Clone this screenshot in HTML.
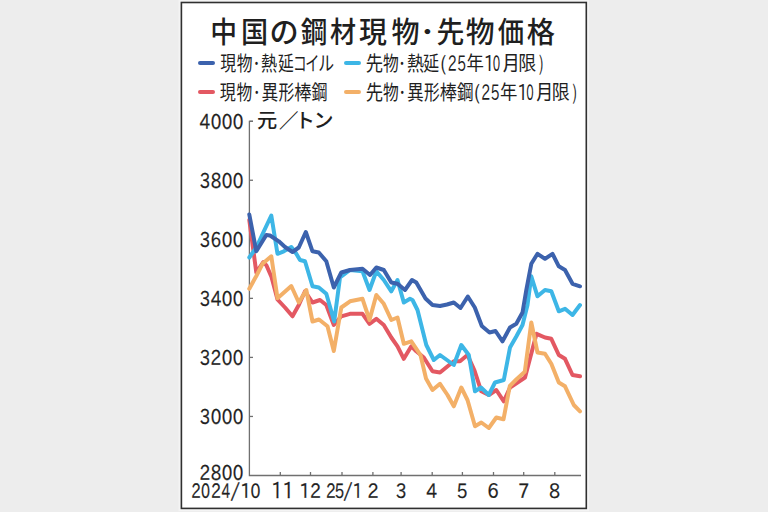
<!DOCTYPE html>
<html><head><meta charset="utf-8"><style>
html,body{margin:0;padding:0;background:#ededed;overflow:hidden;}
svg{display:block;}
text{fill:#1f1f1f;}
.b text{stroke:#1f1f1f;stroke-width:0.25px;}
</style></head><body>
<svg width="768" height="512" viewBox="0 0 768 512">
<rect x="0" y="0" width="768" height="512" fill="#ededed"/>
<rect x="179.6" y="0.7" width="408.5" height="509.5" fill="none" stroke="#f4f4f4" stroke-width="2"/>
<rect x="181.4" y="2.5" width="404.9" height="505.9" fill="#ffffff" stroke="#303030" stroke-width="1.6"/>
<g stroke-linecap="round" stroke-width="4">
<line x1="200" y1="62.9" x2="213" y2="62.9" stroke="#3c62ad"/>
<line x1="200" y1="91.9" x2="213" y2="91.9" stroke="#e35862"/>
<line x1="346" y1="62.9" x2="359" y2="62.9" stroke="#3db6e6"/>
<line x1="346" y1="91.9" x2="359" y2="91.9" stroke="#f3b068"/>
</g>
<text transform="translate(210.29,42.68) scale(0.925,1)" style="font-family:'Liberation Sans','Noto Sans CJK JP',sans-serif;font-size:29.00px;font-weight:500">中</text>
<text transform="translate(240.93,42.68) scale(0.936,1)" style="font-family:'Liberation Sans','Noto Sans CJK JP',sans-serif;font-size:29.00px;font-weight:500">国</text>
<text transform="translate(269.57,42.68) scale(1.006,1)" style="font-family:'Liberation Sans','Noto Sans CJK JP',sans-serif;font-size:29.00px;font-weight:500">の</text>
<text transform="translate(300.67,42.68) scale(0.918,1)" style="font-family:'Liberation Sans','Noto Sans CJK JP',sans-serif;font-size:29.00px;font-weight:500">鋼</text>
<text transform="translate(329.98,42.68) scale(0.899,1)" style="font-family:'Liberation Sans','Noto Sans CJK JP',sans-serif;font-size:29.00px;font-weight:500">材</text>
<text transform="translate(358.96,42.68) scale(0.962,1)" style="font-family:'Liberation Sans','Noto Sans CJK JP',sans-serif;font-size:29.00px;font-weight:500">現</text>
<text transform="translate(391.56,42.68) scale(0.968,1)" style="font-family:'Liberation Sans','Noto Sans CJK JP',sans-serif;font-size:29.00px;font-weight:500">物</text>
<text transform="translate(419.43,42.68) scale(1.092,1)" style="font-family:'Liberation Sans','Noto Sans CJK JP',sans-serif;font-size:29.00px;font-weight:500">･</text>
<text transform="translate(436.51,42.68) scale(0.962,1)" style="font-family:'Liberation Sans','Noto Sans CJK JP',sans-serif;font-size:29.00px;font-weight:500">先</text>
<text transform="translate(465.84,42.68) scale(0.994,1)" style="font-family:'Liberation Sans','Noto Sans CJK JP',sans-serif;font-size:29.00px;font-weight:500">物</text>
<text transform="translate(497.77,42.68) scale(0.908,1)" style="font-family:'Liberation Sans','Noto Sans CJK JP',sans-serif;font-size:29.00px;font-weight:500">価</text>
<text transform="translate(526.75,42.68) scale(0.973,1)" style="font-family:'Liberation Sans','Noto Sans CJK JP',sans-serif;font-size:29.00px;font-weight:500">格</text>
<text transform="translate(220.22,70.60) scale(0.793,1)" style="font-family:'Liberation Sans','Noto Sans CJK JP',sans-serif;font-size:20.00px;font-weight:400">現</text>
<text transform="translate(236.83,70.60) scale(0.788,1)" style="font-family:'Liberation Sans','Noto Sans CJK JP',sans-serif;font-size:20.00px;font-weight:400">物</text>
<text transform="translate(252.65,70.60) scale(0.750,1)" style="font-family:'Liberation Sans','Noto Sans CJK JP',sans-serif;font-size:20.00px;font-weight:400">･</text>
<text transform="translate(260.94,70.60) scale(0.807,1)" style="font-family:'Liberation Sans','Noto Sans CJK JP',sans-serif;font-size:20.00px;font-weight:400">熱</text>
<text transform="translate(278.07,70.60) scale(0.788,1)" style="font-family:'Liberation Sans','Noto Sans CJK JP',sans-serif;font-size:20.00px;font-weight:400">延</text>
<text transform="translate(292.92,70.60) scale(0.681,1)" style="font-family:'Liberation Sans','Noto Sans CJK JP',sans-serif;font-size:20.00px;font-weight:400">コ</text>
<text transform="translate(305.23,70.60) scale(0.708,1)" style="font-family:'Liberation Sans','Noto Sans CJK JP',sans-serif;font-size:20.00px;font-weight:400">イ</text>
<text transform="translate(318.29,70.60) scale(0.795,1)" style="font-family:'Liberation Sans','Noto Sans CJK JP',sans-serif;font-size:20.00px;font-weight:400">ル</text>
<text transform="translate(219.82,99.60) scale(0.803,1)" style="font-family:'Liberation Sans','Noto Sans CJK JP',sans-serif;font-size:20.00px;font-weight:400">現</text>
<text transform="translate(236.53,99.60) scale(0.788,1)" style="font-family:'Liberation Sans','Noto Sans CJK JP',sans-serif;font-size:20.00px;font-weight:400">物</text>
<text transform="translate(252.95,99.60) scale(0.750,1)" style="font-family:'Liberation Sans','Noto Sans CJK JP',sans-serif;font-size:20.00px;font-weight:400">･</text>
<text transform="translate(261.56,99.60) scale(0.839,1)" style="font-family:'Liberation Sans','Noto Sans CJK JP',sans-serif;font-size:20.00px;font-weight:400">異</text>
<text transform="translate(278.47,99.60) scale(0.793,1)" style="font-family:'Liberation Sans','Noto Sans CJK JP',sans-serif;font-size:20.00px;font-weight:400">形</text>
<text transform="translate(294.18,99.60) scale(0.862,1)" style="font-family:'Liberation Sans','Noto Sans CJK JP',sans-serif;font-size:20.00px;font-weight:400">棒</text>
<text transform="translate(311.58,99.60) scale(0.802,1)" style="font-family:'Liberation Sans','Noto Sans CJK JP',sans-serif;font-size:20.00px;font-weight:400">鋼</text>
<text transform="translate(365.83,70.60) scale(0.867,1)" style="font-family:'Liberation Sans','Noto Sans CJK JP',sans-serif;font-size:20.00px;font-weight:400">先</text>
<text transform="translate(382.93,70.60) scale(0.788,1)" style="font-family:'Liberation Sans','Noto Sans CJK JP',sans-serif;font-size:20.00px;font-weight:400">物</text>
<text transform="translate(398.35,70.60) scale(0.750,1)" style="font-family:'Liberation Sans','Noto Sans CJK JP',sans-serif;font-size:20.00px;font-weight:400">･</text>
<text transform="translate(406.95,70.60) scale(0.853,1)" style="font-family:'Liberation Sans','Noto Sans CJK JP',sans-serif;font-size:20.00px;font-weight:400">熱</text>
<text transform="translate(423.37,70.60) scale(0.793,1)" style="font-family:'Liberation Sans','Noto Sans CJK JP',sans-serif;font-size:20.00px;font-weight:400">延</text>
<text transform="translate(365.83,99.60) scale(0.867,1)" style="font-family:'Liberation Sans','Noto Sans CJK JP',sans-serif;font-size:20.00px;font-weight:400">先</text>
<text transform="translate(382.93,99.60) scale(0.788,1)" style="font-family:'Liberation Sans','Noto Sans CJK JP',sans-serif;font-size:20.00px;font-weight:400">物</text>
<text transform="translate(398.45,99.60) scale(0.750,1)" style="font-family:'Liberation Sans','Noto Sans CJK JP',sans-serif;font-size:20.00px;font-weight:400">･</text>
<text transform="translate(407.06,99.60) scale(0.839,1)" style="font-family:'Liberation Sans','Noto Sans CJK JP',sans-serif;font-size:20.00px;font-weight:400">異</text>
<text transform="translate(423.97,99.60) scale(0.788,1)" style="font-family:'Liberation Sans','Noto Sans CJK JP',sans-serif;font-size:20.00px;font-weight:400">形</text>
<text transform="translate(439.69,99.60) scale(0.856,1)" style="font-family:'Liberation Sans','Noto Sans CJK JP',sans-serif;font-size:20.00px;font-weight:400">棒</text>
<text transform="translate(457.07,99.60) scale(0.830,1)" style="font-family:'Liberation Sans','Noto Sans CJK JP',sans-serif;font-size:20.00px;font-weight:400">鋼</text>
<text transform="translate(440.28,71.10) scale(0.825,1)" style="font-family:'IPAPGothic','IPAGothic',sans-serif;font-size:21.50px;font-weight:400">(</text>
<text transform="translate(447.76,71.10) scale(0.656,1)" style="font-family:'IPAPGothic','IPAGothic',sans-serif;font-size:21.50px;font-weight:400">2</text>
<text transform="translate(456.94,71.10) scale(0.674,1)" style="font-family:'IPAPGothic','IPAGothic',sans-serif;font-size:21.50px;font-weight:400">5</text>
<text transform="translate(466.24,71.10) scale(0.835,1)" style="font-family:'IPAPGothic','IPAGothic',sans-serif;font-size:21.50px;font-weight:400">年</text>
<text transform="translate(483.73,71.10) scale(0.792,1)" style="font-family:'IPAPGothic','IPAGothic',sans-serif;font-size:21.50px;font-weight:400">1</text>
<text transform="translate(492.71,71.10) scale(0.550,1)" style="font-family:'IPAPGothic','IPAGothic',sans-serif;font-size:21.50px;font-weight:400">0</text>
<text transform="translate(501.02,71.10) scale(0.923,1)" style="font-family:'IPAPGothic','IPAGothic',sans-serif;font-size:21.50px;font-weight:400">月</text>
<text transform="translate(517.95,71.10) scale(0.859,1)" style="font-family:'IPAPGothic','IPAGothic',sans-serif;font-size:21.50px;font-weight:400">限</text>
<text transform="translate(539.00,71.10) scale(0.627,1)" style="font-family:'IPAPGothic','IPAGothic',sans-serif;font-size:21.50px;font-weight:400">)</text>
<text transform="translate(473.88,100.10) scale(0.825,1)" style="font-family:'IPAPGothic','IPAGothic',sans-serif;font-size:21.50px;font-weight:400">(</text>
<text transform="translate(481.36,100.10) scale(0.656,1)" style="font-family:'IPAPGothic','IPAGothic',sans-serif;font-size:21.50px;font-weight:400">2</text>
<text transform="translate(490.54,100.10) scale(0.674,1)" style="font-family:'IPAPGothic','IPAGothic',sans-serif;font-size:21.50px;font-weight:400">5</text>
<text transform="translate(499.84,100.10) scale(0.835,1)" style="font-family:'IPAPGothic','IPAGothic',sans-serif;font-size:21.50px;font-weight:400">年</text>
<text transform="translate(517.33,100.10) scale(0.792,1)" style="font-family:'IPAPGothic','IPAGothic',sans-serif;font-size:21.50px;font-weight:400">1</text>
<text transform="translate(526.31,100.10) scale(0.550,1)" style="font-family:'IPAPGothic','IPAGothic',sans-serif;font-size:21.50px;font-weight:400">0</text>
<text transform="translate(534.62,100.10) scale(0.923,1)" style="font-family:'IPAPGothic','IPAGothic',sans-serif;font-size:21.50px;font-weight:400">月</text>
<text transform="translate(551.55,100.10) scale(0.859,1)" style="font-family:'IPAPGothic','IPAGothic',sans-serif;font-size:21.50px;font-weight:400">限</text>
<text transform="translate(572.60,100.10) scale(0.627,1)" style="font-family:'IPAPGothic','IPAGothic',sans-serif;font-size:21.50px;font-weight:400">)</text>
<text transform="translate(256.99,127.90) scale(1.011,1)" style="font-family:'Liberation Sans','Noto Sans CJK JP',sans-serif;font-size:20.00px;font-weight:500">元</text>
<text transform="translate(279.12,127.90) scale(0.973,1)" style="font-family:'Liberation Sans','Noto Sans CJK JP',sans-serif;font-size:20.00px;font-weight:500">／</text>
<text transform="translate(295.32,127.90) scale(0.981,1)" style="font-family:'Liberation Sans','Noto Sans CJK JP',sans-serif;font-size:20.00px;font-weight:500">ト</text>
<text transform="translate(313.40,127.90) scale(1.000,1)" style="font-family:'Liberation Sans','Noto Sans CJK JP',sans-serif;font-size:20.00px;font-weight:500">ン</text>
<g class="b">
<text transform="translate(199.44,479.57) scale(0.820,1)" style="font-family:'IPAPGothic','IPAGothic',sans-serif;font-size:20.60px;font-weight:400">2</text>
<text transform="translate(210.63,479.57) scale(0.820,1)" style="font-family:'IPAPGothic','IPAGothic',sans-serif;font-size:20.60px;font-weight:400">8</text>
<text transform="translate(221.73,479.57) scale(0.820,1)" style="font-family:'IPAPGothic','IPAGothic',sans-serif;font-size:20.60px;font-weight:400">0</text>
<text transform="translate(232.83,479.57) scale(0.820,1)" style="font-family:'IPAPGothic','IPAGothic',sans-serif;font-size:20.60px;font-weight:400">0</text>
<text transform="translate(199.78,424.02) scale(0.820,1)" style="font-family:'IPAPGothic','IPAGothic',sans-serif;font-size:20.60px;font-weight:400">3</text>
<text transform="translate(210.63,424.02) scale(0.820,1)" style="font-family:'IPAPGothic','IPAGothic',sans-serif;font-size:20.60px;font-weight:400">0</text>
<text transform="translate(221.73,424.02) scale(0.820,1)" style="font-family:'IPAPGothic','IPAGothic',sans-serif;font-size:20.60px;font-weight:400">0</text>
<text transform="translate(232.83,424.02) scale(0.820,1)" style="font-family:'IPAPGothic','IPAGothic',sans-serif;font-size:20.60px;font-weight:400">0</text>
<text transform="translate(199.78,364.97) scale(0.820,1)" style="font-family:'IPAPGothic','IPAGothic',sans-serif;font-size:20.60px;font-weight:400">3</text>
<text transform="translate(210.54,364.97) scale(0.820,1)" style="font-family:'IPAPGothic','IPAGothic',sans-serif;font-size:20.60px;font-weight:400">2</text>
<text transform="translate(221.73,364.97) scale(0.820,1)" style="font-family:'IPAPGothic','IPAGothic',sans-serif;font-size:20.60px;font-weight:400">0</text>
<text transform="translate(232.83,364.97) scale(0.820,1)" style="font-family:'IPAPGothic','IPAGothic',sans-serif;font-size:20.60px;font-weight:400">0</text>
<text transform="translate(199.78,305.92) scale(0.820,1)" style="font-family:'IPAPGothic','IPAGothic',sans-serif;font-size:20.60px;font-weight:400">3</text>
<text transform="translate(210.63,305.92) scale(0.820,1)" style="font-family:'IPAPGothic','IPAGothic',sans-serif;font-size:20.60px;font-weight:400">4</text>
<text transform="translate(221.73,305.92) scale(0.820,1)" style="font-family:'IPAPGothic','IPAGothic',sans-serif;font-size:20.60px;font-weight:400">0</text>
<text transform="translate(232.83,305.92) scale(0.820,1)" style="font-family:'IPAPGothic','IPAGothic',sans-serif;font-size:20.60px;font-weight:400">0</text>
<text transform="translate(199.78,246.87) scale(0.820,1)" style="font-family:'IPAPGothic','IPAGothic',sans-serif;font-size:20.60px;font-weight:400">3</text>
<text transform="translate(210.46,246.87) scale(0.820,1)" style="font-family:'IPAPGothic','IPAGothic',sans-serif;font-size:20.60px;font-weight:400">6</text>
<text transform="translate(221.73,246.87) scale(0.820,1)" style="font-family:'IPAPGothic','IPAGothic',sans-serif;font-size:20.60px;font-weight:400">0</text>
<text transform="translate(232.83,246.87) scale(0.820,1)" style="font-family:'IPAPGothic','IPAGothic',sans-serif;font-size:20.60px;font-weight:400">0</text>
<text transform="translate(199.78,187.82) scale(0.820,1)" style="font-family:'IPAPGothic','IPAGothic',sans-serif;font-size:20.60px;font-weight:400">3</text>
<text transform="translate(210.63,187.82) scale(0.820,1)" style="font-family:'IPAPGothic','IPAGothic',sans-serif;font-size:20.60px;font-weight:400">8</text>
<text transform="translate(221.73,187.82) scale(0.820,1)" style="font-family:'IPAPGothic','IPAGothic',sans-serif;font-size:20.60px;font-weight:400">0</text>
<text transform="translate(232.83,187.82) scale(0.820,1)" style="font-family:'IPAPGothic','IPAGothic',sans-serif;font-size:20.60px;font-weight:400">0</text>
<text transform="translate(199.53,128.77) scale(0.820,1)" style="font-family:'IPAPGothic','IPAGothic',sans-serif;font-size:20.60px;font-weight:400">4</text>
<text transform="translate(210.63,128.77) scale(0.820,1)" style="font-family:'IPAPGothic','IPAGothic',sans-serif;font-size:20.60px;font-weight:400">0</text>
<text transform="translate(221.73,128.77) scale(0.820,1)" style="font-family:'IPAPGothic','IPAGothic',sans-serif;font-size:20.60px;font-weight:400">0</text>
<text transform="translate(232.83,128.77) scale(0.820,1)" style="font-family:'IPAPGothic','IPAGothic',sans-serif;font-size:20.60px;font-weight:400">0</text>
<text transform="translate(191.15,498.10) scale(0.750,1)" style="font-family:'IPAPGothic','IPAGothic',sans-serif;font-size:20.00px;font-weight:400">2</text>
<text transform="translate(201.08,498.10) scale(0.717,1)" style="font-family:'IPAPGothic','IPAGothic',sans-serif;font-size:20.00px;font-weight:400">0</text>
<text transform="translate(210.91,498.10) scale(0.780,1)" style="font-family:'IPAPGothic','IPAGothic',sans-serif;font-size:20.00px;font-weight:400">2</text>
<text transform="translate(221.49,498.10) scale(0.684,1)" style="font-family:'IPAPGothic','IPAGothic',sans-serif;font-size:20.00px;font-weight:400">4</text>
<text transform="translate(229.85,498.10) scale(1.150,1)" style="font-family:'IPAPGothic','IPAGothic',sans-serif;font-size:20.00px;font-weight:400">/</text>
<text transform="translate(240.29,498.10) scale(0.870,1)" style="font-family:'IPAPGothic','IPAGothic',sans-serif;font-size:20.00px;font-weight:400">1</text>
<text transform="translate(250.51,498.10) scale(0.792,1)" style="font-family:'IPAPGothic','IPAGothic',sans-serif;font-size:20.00px;font-weight:400">0</text>
<text transform="translate(271.20,498.10) scale(0.907,1)" style="font-family:'IPAPGothic','IPAGothic',sans-serif;font-size:20.00px;font-weight:400">1</text>
<text transform="translate(282.40,498.10) scale(0.907,1)" style="font-family:'IPAPGothic','IPAGothic',sans-serif;font-size:20.00px;font-weight:400">1</text>
<text transform="translate(299.14,498.10) scale(0.889,1)" style="font-family:'IPAPGothic','IPAGothic',sans-serif;font-size:20.00px;font-weight:400">1</text>
<text transform="translate(310.10,498.10) scale(0.860,1)" style="font-family:'IPAPGothic','IPAGothic',sans-serif;font-size:20.00px;font-weight:400">2</text>
<text transform="translate(326.04,498.10) scale(0.760,1)" style="font-family:'IPAPGothic','IPAGothic',sans-serif;font-size:20.00px;font-weight:400">2</text>
<text transform="translate(334.46,498.10) scale(0.776,1)" style="font-family:'IPAPGothic','IPAGothic',sans-serif;font-size:20.00px;font-weight:400">5</text>
<text transform="translate(342.71,498.10) scale(1.095,1)" style="font-family:'IPAPGothic','IPAGothic',sans-serif;font-size:20.00px;font-weight:400">/</text>
<text transform="translate(352.41,498.10) scale(0.815,1)" style="font-family:'IPAPGothic','IPAGothic',sans-serif;font-size:20.00px;font-weight:400">1</text>
<text transform="translate(367.38,498.10) scale(0.870,1)" style="font-family:'IPAPGothic','IPAGothic',sans-serif;font-size:20.00px;font-weight:400">2</text>
<text transform="translate(395.83,498.10) scale(0.870,1)" style="font-family:'IPAPGothic','IPAGothic',sans-serif;font-size:20.00px;font-weight:400">3</text>
<text transform="translate(426.18,498.10) scale(0.860,1)" style="font-family:'IPAPGothic','IPAGothic',sans-serif;font-size:20.00px;font-weight:400">4</text>
<text transform="translate(456.40,498.10) scale(0.878,1)" style="font-family:'IPAPGothic','IPAGothic',sans-serif;font-size:20.00px;font-weight:400">5</text>
<text transform="translate(487.29,498.10) scale(0.913,1)" style="font-family:'IPAPGothic','IPAGothic',sans-serif;font-size:20.00px;font-weight:400">6</text>
<text transform="translate(518.27,498.10) scale(0.878,1)" style="font-family:'IPAPGothic','IPAGothic',sans-serif;font-size:20.00px;font-weight:400">7</text>
<text transform="translate(549.11,498.10) scale(0.887,1)" style="font-family:'IPAPGothic','IPAGothic',sans-serif;font-size:20.00px;font-weight:400">8</text>
</g>
<g stroke="#707070" stroke-width="1.3" fill="none">
<polyline points="253,121.4 249.4,121.4 249.4,475.5 581,475.5"/>
<line x1="249.4" y1="416.45" x2="253" y2="416.45"/><line x1="249.4" y1="357.40" x2="253" y2="357.40"/><line x1="249.4" y1="298.35" x2="253" y2="298.35"/><line x1="249.4" y1="239.30" x2="253" y2="239.30"/><line x1="249.4" y1="180.25" x2="253" y2="180.25"/><line x1="249.4" y1="121.20" x2="253" y2="121.20"/>
<line x1="280.3" y1="472" x2="280.3" y2="475.5"/><line x1="310.5" y1="472" x2="310.5" y2="475.5"/><line x1="342.0" y1="472" x2="342.0" y2="475.5"/><line x1="372.9" y1="472" x2="372.9" y2="475.5"/><line x1="401.1" y1="472" x2="401.1" y2="475.5"/><line x1="432.2" y1="472" x2="432.2" y2="475.5"/><line x1="462.4" y1="472" x2="462.4" y2="475.5"/><line x1="493.5" y1="472" x2="493.5" y2="475.5"/><line x1="523.7" y1="472" x2="523.7" y2="475.5"/><line x1="554.8" y1="472" x2="554.8" y2="475.5"/>
</g>
<g fill="none" stroke-width="4.0" stroke-linejoin="round" stroke-linecap="round">
<polyline stroke="#e35862" points="249.3,220 256.3,272.5 263.5,262 266.5,265.5 271.5,277 277.5,299.5 285,307.5 292.5,316.3 298.8,305 305,291.3 312.5,302.5 320,300 326.3,305 333.8,325 341.3,316.3 350,313.8 362.5,313.8 369.5,323.8 376.3,318.8 383.8,325 391.3,337.5 397.5,346.3 403.8,358.8 411.3,346.3 416.3,351.3 423.8,357.5 432.5,371.3 440,372.5 453.8,361.3 460,361.3 467.5,355 474.5,370.5 481.3,391.3 488.8,395 496.3,390 503.8,401.3 510,387.5 517.5,382.5 525,377.5 536.5,333.8 545,337.5 551.3,338.8 558.8,355 565,358.8 572.5,375 580,376.3"/>
<polyline stroke="#f3b068" points="249.3,288.8 256.3,276 262.5,263.8 271.3,256.3 277.5,298.3 291.3,286 298.8,302.5 306.3,290 312.5,321.5 319,319.5 327.5,326.3 333.8,351 341.3,307.5 350,301.3 362.5,298.8 369.5,320 376.3,295 383.8,303.8 391.3,320 397.5,317.5 403.8,343.8 411.3,341.3 420.5,355 426,378.5 432.5,390 440,383.8 447.5,395 453.8,406.3 461.3,387.5 467.5,400 475,426.3 481.3,422.5 488.8,428 496.3,417.5 503.5,419.3 509.8,386 516.8,379 524.8,371.8 531.3,322.5 537.5,352.5 545,353.8 551.3,363.8 558.8,382.5 565,386.3 573.8,405 580,411.3"/>
<polyline stroke="#3db6e6" points="249.3,257.5 256.3,247.5 263.5,232 271.3,215.5 277.5,253.8 283.8,251.3 291.3,247 296.3,253.8 300,260 305,261.3 312.5,286.3 318.8,287.5 326.3,293.8 334.2,321.5 340,277.5 350,270 362.5,271.3 369.5,290 376.3,271.3 383.8,280 391.3,291.3 397.5,280 403.8,302.5 410,298.8 412.5,300 417.5,310 426.3,345 433.8,360 440,355 453.8,365 461.3,345 468.8,355 475,391.3 481,387.5 488.8,395 495,382.5 503.8,380 510,347.5 516.3,336.5 522.5,325 527.5,305 531.3,276.3 537.5,296.3 545,290 551.3,291.3 558.8,311.3 565,308.8 572.5,315 580,305"/>
<polyline stroke="#3c62ad" points="249.3,214.5 256.3,251.3 266.3,235 270,235.5 278.8,241.3 285,247 292.5,252 298.8,247.5 305.8,232 312.5,251.3 318.8,252.5 326.3,261.3 333.8,287.5 341.3,272.5 350,270 362.5,268.8 370,275 376.3,267.5 383.8,270 391.3,282.5 397.5,283.8 405,290 412,280 416.3,282.5 425.5,298.5 432.5,305 440,306 447,304.5 453.8,302.5 460.5,308 467.8,296.5 474.8,307.5 481.8,326 489.5,332.5 495.5,331 502.5,341.3 510,327.5 516.3,323.8 522.5,312.5 526.3,290 531.3,263.8 537.5,253.8 545,258.8 552.5,253.8 558.8,266.3 565,270 572.5,283.8 580,286.3"/>
</g>
</svg>
</body></html>
